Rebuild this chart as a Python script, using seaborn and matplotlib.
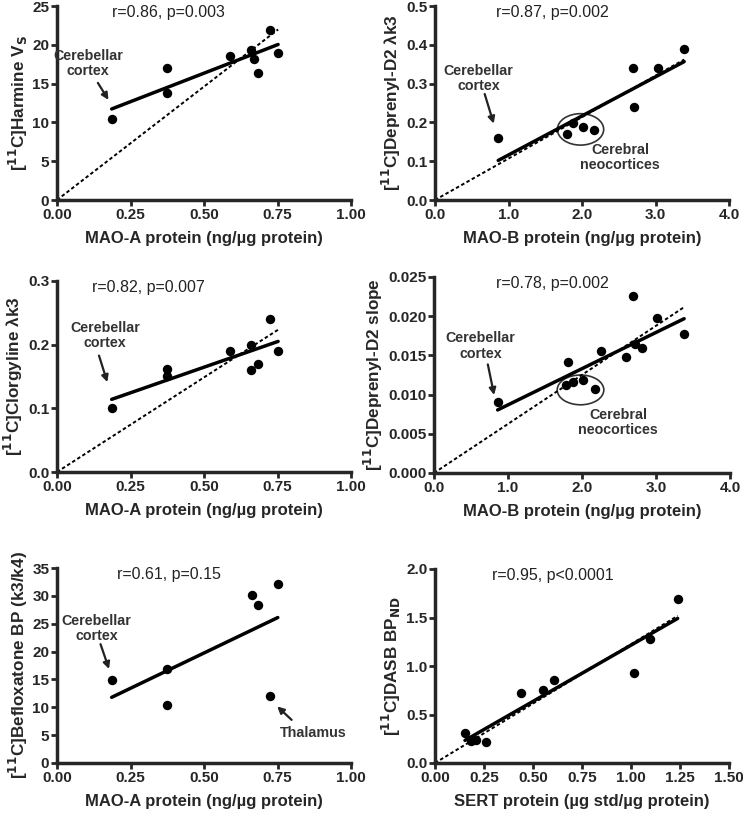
import numpy as np
import matplotlib
matplotlib.use("Agg")
import matplotlib.pyplot as plt
import seaborn as sns
from matplotlib.patches import Ellipse

sns.set_style("ticks")
plt.rcParams['font.family'] = ['Liberation Sans', 'DejaVu Sans']

# Panel A: harmine vs MAO-A
harm_x = [0.186, 0.375, 0.375, 0.589, 0.659, 0.670, 0.682, 0.725, 0.752]
harm_y = [10.5, 17.0, 13.8, 18.5, 19.3, 18.2, 16.4, 21.9, 19.0]
# Panel B: deprenyl-D2 lambda k3 vs MAO-B
depk3_x = [0.86, 1.80, 1.88, 2.01, 2.17, 2.69, 2.71, 3.03, 3.39]
depk3_y = [0.160, 0.169, 0.199, 0.188, 0.180, 0.340, 0.240, 0.340, 0.390]
# Panel C: clorgyline vs MAO-A
clor_x = [0.186, 0.375, 0.375, 0.589, 0.659, 0.659, 0.682, 0.725, 0.752]
clor_y = [0.100, 0.161, 0.151, 0.190, 0.200, 0.160, 0.170, 0.240, 0.190]
# Panel D: deprenyl-D2 slope vs MAO-B
depsl_x = [0.86, 1.78, 1.81, 1.88, 2.01, 2.17, 2.25, 2.60, 2.69, 2.72, 2.81, 3.02, 3.38]
depsl_y = [0.0091, 0.0112, 0.0142, 0.0116, 0.0118, 0.0107, 0.0155, 0.0148, 0.0226, 0.0165, 0.0159, 0.0198, 0.0177]
# Panel E: befloxatone vs MAO-A
befl_x = [0.186, 0.375, 0.375, 0.662, 0.682, 0.751, 0.725]
befl_y = [14.9, 16.8, 10.4, 30.1, 28.3, 32.1, 12.1]
# Panel F: DASB vs SERT
dasb_x = [0.153, 0.184, 0.207, 0.260, 0.440, 0.551, 0.609, 1.017, 1.099, 1.238]
dasb_y = [0.31, 0.23, 0.24, 0.22, 0.72, 0.75, 0.86, 0.93, 1.28, 1.69]

stats = ["r=0.86, p=0.003", "r=0.87, p=0.002", "r=0.82, p=0.007",
         "r=0.78, p=0.002", "r=0.61, p=0.15", "r=0.95, p<0.0001"]
ylabels = [r"[$^{\mathbf{11}}$C]Harmine V$_{\mathbf{S}}$",
           r"[$^{\mathbf{11}}$C]Deprenyl-D2 λk3",
           r"[$^{\mathbf{11}}$C]Clorgyline λk3",
           r"[$^{\mathbf{11}}$C]Deprenyl-D2 slope",
           r"[$^{\mathbf{11}}$C]Befloxatone BP (k3/k4)",
           r"[$^{\mathbf{11}}$C]DASB BP$_{\mathbf{ND}}$"]
xlab_a = "MAO-A protein (ng/µg protein)"
xlab_b = "MAO-B protein (ng/µg protein)"
xlab_s = "SERT protein (µg std/µg protein)"

W, H = 743, 814
fig = plt.figure(figsize=(W / 100, H / 100), dpi=100)


def box(l, t, r, b):
    return [l / W, 1 - b / H, (r - l) / W, (b - t) / H]


def panel(rect, x, y, ylab, xlab, stat, xlim, ylim, xt, yt, xfmt, yfmt, origin=True, statx=0.38):
    ax = fig.add_axes(rect)
    x = np.array(x)
    y = np.array(y)
    sns.scatterplot(x=x, y=y, ax=ax, color="black", s=46, edgecolor="black", linewidth=0, zorder=3)
    # linear fit
    m, c = np.polyfit(x, y, 1)
    xs = np.array([x.min(), x.max()])
    ax.plot(xs, m * xs + c, color="black", lw=2.5, zorder=2)
    # fit through origin
    if origin:
        k = np.sum(x * y) / np.sum(x * x)
        xo = np.array([0, x.max()])
        ax.plot(xo, k * xo, color="black", lw=1.4, ls=(0, (1.8, 1.3)), zorder=2)
    ax.set_xlim(*xlim)
    ax.set_ylim(*ylim)
    ax.set_xticks(xt)
    ax.set_yticks(yt)
    ax.set_xticklabels([xfmt.format(v) for v in xt], fontweight="bold", fontsize=11)
    ax.set_yticklabels([yfmt.format(v) for v in yt], fontweight="bold", fontsize=11)
    ax.set_xlabel(xlab, fontweight="bold", fontsize=12, labelpad=7)
    ax.set_ylabel(ylab, fontweight="bold", fontsize=12.3, labelpad=2)
    sns.despine(ax=ax)
    for s in ["left", "bottom"]:
        ax.spines[s].set_linewidth(2.5)
    ax.tick_params(width=2, length=4.5, pad=1)
    ax.text(statx, 0.965, stat, transform=ax.transAxes, ha="center", va="center", fontsize=11.5, color="#222")
    return ax


def cb_note(ax, txt_xy, tail, head):
    ax.text(*txt_xy, "Cerebellar\ncortex", ha="center", va="center", fontsize=10.3,
            color="#333", fontweight="bold", linespacing=1.1)
    ax.annotate("", xy=head, xytext=tail,
                arrowprops=dict(arrowstyle="-|>", color="#222", lw=1.6, mutation_scale=10))


ax1 = panel(box(57, 6, 351, 200), harm_x, harm_y, ylabels[0], xlab_a, stats[0],
            (0, 1), (0, 25), [0, 0.25, 0.5, 0.75, 1.0], [0, 5, 10, 15, 20, 25],
            "{:.2f}", "{:.0f}")
cb_note(ax1, (0.106, 17.6), (0.134, 15.4), (0.18, 12.6))

ax2 = panel(box(435, 6, 729, 200), depk3_x, depk3_y, ylabels[1], xlab_b, stats[1],
            (0, 4), (0, 0.5), [0, 1, 2, 3, 4], [0, 0.1, 0.2, 0.3, 0.4, 0.5],
            "{:.1f}", "{:.1f}", statx=0.4)
cb_note(ax2, (0.59, 0.314), (0.665, 0.28), (0.81, 0.19))
ax2.add_patch(Ellipse((1.98, 0.182), 0.63, 0.081, fill=False, ec="#333", lw=1.2))
ax2.text(2.52, 0.109, "Cerebral\nneocortices", ha="center", va="center", fontsize=10.3,
         color="#333", fontweight="bold", linespacing=1.1)

ax3 = panel(box(57, 281, 351, 472), clor_x, clor_y, ylabels[2], xlab_a, stats[2],
            (0, 1), (0, 0.3), [0, 0.25, 0.5, 0.75, 1.0], [0, 0.1, 0.2, 0.3],
            "{:.2f}", "{:.1f}", statx=0.31)
cb_note(ax3, (0.163, 0.215), (0.14, 0.187), (0.174, 0.137))

ax4 = panel(box(434, 277, 730, 473), depsl_x, depsl_y, ylabels[3], xlab_b, stats[3],
            (0, 4), (0, 0.025), [0, 1, 2, 3, 4], [0, 0.005, 0.01, 0.015, 0.02, 0.025],
            "{:.1f}", "{:.3f}", statx=0.4)
cb_note(ax4, (0.63, 0.0162), (0.72, 0.0142), (0.82, 0.0096))
ax4.add_patch(Ellipse((1.98, 0.0106), 0.63, 0.0038, fill=False, ec="#333", lw=1.2))
ax4.text(2.49, 0.0064, "Cerebral\nneocortices", ha="center", va="center", fontsize=10.3,
         color="#333", fontweight="bold", linespacing=1.1)

ax5 = panel(box(57, 568, 351, 763), befl_x, befl_y, ylabels[4], xlab_a, stats[4],
            (0, 1), (0, 35), [0, 0.25, 0.5, 0.75, 1.0], [0, 5, 10, 15, 20, 25, 30, 35],
            "{:.2f}", "{:.0f}", origin=False, statx=0.38)
cb_note(ax5, (0.134, 24.2), (0.145, 21.8), (0.18, 16.4))
ax5.text(0.873, 5.4, "Thalamus", ha="center", va="center", fontsize=10.3, color="#333", fontweight="bold")
ax5.annotate("", xy=(0.742, 10.5), xytext=(0.805, 7.4),
             arrowprops=dict(arrowstyle="-|>", color="#222", lw=1.6, mutation_scale=10))

ax6 = panel(box(435, 569, 729, 763), dasb_x, dasb_y, ylabels[5], xlab_s, stats[5],
            (0, 1.5), (0, 2.0), [0, 0.25, 0.5, 0.75, 1.0, 1.25, 1.5], [0, 0.5, 1.0, 1.5, 2.0],
            "{:.2f}", "{:.1f}", statx=0.4)

fig.savefig("out.png", dpi=100)
